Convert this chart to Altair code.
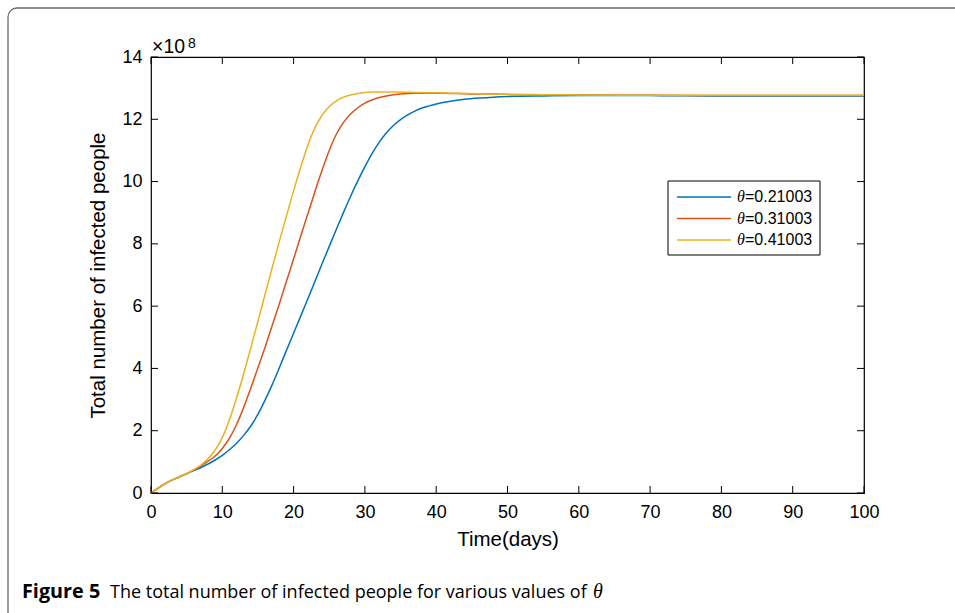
import altair as alt
import pandas as pd

# Total infected people (in units of 10^8) versus time, for three theta values
days = [0, 1, 2, 3, 4, 5, 6, 7, 8, 9, 10, 11, 12, 13, 14, 15, 16, 17, 18, 19,
        20, 21, 22, 23, 24, 25, 26, 27, 28, 29, 30, 31, 32, 33, 34, 35, 36, 37,
        38, 39, 40, 42, 44, 46, 48, 50, 55, 60, 70, 80, 90, 100]

theta_021 = [0, 0.16, 0.30, 0.42, 0.52, 0.62, 0.72, 0.82, 0.93, 1.06, 1.21, 1.39,
             1.60, 1.85, 2.15, 2.53, 2.98, 3.48, 4.02, 4.58, 5.13, 5.68, 6.24,
             6.80, 7.36, 7.92, 8.47, 9.01, 9.53, 10.02, 10.48, 10.90, 11.26, 11.56,
             11.80, 11.99, 12.14, 12.26, 12.36, 12.43, 12.49, 12.58, 12.64, 12.68,
             12.71, 12.73, 12.75, 12.76, 12.76, 12.75, 12.75, 12.75]

theta_031 = [0, 0.16, 0.30, 0.42, 0.52, 0.62, 0.74, 0.87, 1.02, 1.19, 1.43, 1.76,
             2.20, 2.75, 3.37, 4.02, 4.68, 5.38, 6.08, 6.80, 7.52, 8.25, 8.97,
             9.68, 10.37, 11.00, 11.52, 11.90, 12.17, 12.37, 12.52, 12.62, 12.70,
             12.75, 12.79, 12.81, 12.83, 12.84, 12.84, 12.84, 12.84, 12.83, 12.82,
             12.81, 12.81, 12.80, 12.79, 12.78, 12.77, 12.76, 12.76, 12.76]

theta_041 = [0, 0.16, 0.30, 0.42, 0.52, 0.62, 0.75, 0.90, 1.10, 1.38, 1.78, 2.35,
             3.05, 3.83, 4.66, 5.52, 6.38, 7.24, 8.08, 8.90, 9.70, 10.47, 11.17,
             11.73, 12.13, 12.41, 12.59, 12.71, 12.78, 12.83, 12.86, 12.875, 12.88,
             12.88, 12.88, 12.87, 12.87, 12.86, 12.86, 12.85, 12.85, 12.84, 12.83,
             12.82, 12.81, 12.80, 12.79, 12.78, 12.77, 12.77, 12.77, 12.77]

series_names = ["θ=0.21003", "θ=0.31003", "θ=0.41003"]
legend_values = ["=0.21003", "=0.31003", "=0.41003"]
series_colors = ["#0072BD", "#D95319", "#EDB120"]

x_ticks = [0, 10, 20, 30, 40, 50, 60, 70, 80, 90, 100]
y_ticks = [0, 2, 4, 6, 8, 10, 12, 14]

W, H = 713, 436
FONT = "Liberation Sans"

rows = []
for name, vals in zip(series_names, [theta_021, theta_031, theta_041]):
    for d, v in zip(days, vals):
        rows.append({"day": d, "value": v, "series": name})
df = pd.DataFrame(rows)

x_scale = alt.Scale(domain=[0, 100], nice=False, zero=False)
y_scale = alt.Scale(domain=[0, 14], nice=False)

lines = alt.Chart(df).mark_line(strokeWidth=1.5, interpolate="monotone").encode(
    x=alt.X("day:Q", scale=x_scale,
            axis=alt.Axis(values=x_ticks, grid=False, ticks=False, domain=False,
                          labelFlush=False, labelOverlap=False,
                          labelFontSize=18, labelPadding=10, labelFont=FONT,
                          labelColor="black", title="Time(days)",
                          titleFontSize=20.5, titleFont=FONT, titleColor="black",
                          titleFontWeight="normal", titlePadding=8)),
    y=alt.Y("value:Q", scale=y_scale,
            axis=alt.Axis(values=y_ticks, grid=False, ticks=False, domain=False,
                          labelFlush=False, labelOverlap=False,
                          labelFontSize=18, labelPadding=9, labelFont=FONT,
                          labelColor="black",
                          title="Total number of infected people",
                          titleFontSize=20.5, titleFont=FONT, titleColor="black",
                          titleFontWeight="normal", titlePadding=13)),
    color=alt.Color("series:N", scale=alt.Scale(domain=series_names,
                                                range=series_colors),
                    legend=None),
    order="day:Q",
)

# inward-pointing tick marks on all four sides of the box
xt = pd.DataFrame({"t": x_ticks})
yt = pd.DataFrame({"t": y_ticks})
tick_style = dict(color="black", strokeWidth=1)
ticks_bottom = alt.Chart(xt).mark_rule(**tick_style).encode(
    x=alt.X("t:Q", scale=x_scale), y=alt.value(H), y2=alt.value(H - 7))
ticks_top = alt.Chart(xt).mark_rule(**tick_style).encode(
    x=alt.X("t:Q", scale=x_scale), y=alt.value(0), y2=alt.value(7))
ticks_left = alt.Chart(yt).mark_rule(**tick_style).encode(
    y=alt.Y("t:Q", scale=y_scale), x=alt.value(0), x2=alt.value(7))
ticks_right = alt.Chart(yt).mark_rule(**tick_style).encode(
    y=alt.Y("t:Q", scale=y_scale), x=alt.value(W), x2=alt.value(W - 7))

one = pd.DataFrame({"k": [0]})

# exponent label above the y axis
exp_base = alt.Chart(one).mark_text(
    text="×10", font=FONT, fontSize=19.5, align="left", baseline="alphabetic",
    color="black").encode(x=alt.value(1), y=alt.value(-4))
exp_sup = alt.Chart(one).mark_text(
    text="8", font=FONT, fontSize=14, align="left", baseline="alphabetic",
    color="black").encode(x=alt.value(37), y=alt.value(-9))

# legend box with line samples and labels
leg_x0, leg_y0 = 517, 124
legend_box = alt.Chart(one).mark_rect(
    fill="white", stroke="black", strokeWidth=1).encode(
    x=alt.value(leg_x0), x2=alt.value(leg_x0 + 152),
    y=alt.value(leg_y0), y2=alt.value(leg_y0 + 74))
legend_layers = [legend_box]
for i, (lab, col) in enumerate(zip(legend_values, series_colors)):
    yy = leg_y0 + 16 + i * 21.5
    legend_layers.append(alt.Chart(one).mark_rule(
        color=col, strokeWidth=1.5).encode(
        x=alt.value(leg_x0 + 9), x2=alt.value(leg_x0 + 63), y=alt.value(yy)))
    legend_layers.append(alt.Chart(one).mark_text(
        text="θ", font="Liberation Serif", fontStyle="italic", fontSize=16,
        align="left", baseline="middle", color="black").encode(
        x=alt.value(leg_x0 + 69), y=alt.value(yy)))
    legend_layers.append(alt.Chart(one).mark_text(
        text=lab, font=FONT, fontSize=16, align="left", baseline="middle",
        color="black").encode(x=alt.value(leg_x0 + 77), y=alt.value(yy)))

# figure frame and caption
frame = alt.Chart(one).mark_rect(
    fill=None, stroke="#6b6b6b", strokeWidth=1.3, cornerRadius=9).encode(
    x=alt.value(8 - 151), x2=alt.value(975 - 151),
    y=alt.value(8 - 57), y2=alt.value(640 - 57))
cap_font = "Open Sans"
cap_bold = alt.Chart(one).mark_text(
    text="Figure 5", font=cap_font, fontSize=19.8, fontWeight="bold",
    align="left", baseline="alphabetic", color="black").encode(
    x=alt.value(22 - 151), y=alt.value(598 - 57))
cap_text = alt.Chart(one).mark_text(
    text="The total number of infected people for various values of",
    font=cap_font, fontSize=18, align="left", baseline="alphabetic",
    color="black").encode(x=alt.value(110 - 151), y=alt.value(598 - 57))
cap_theta = alt.Chart(one).mark_text(
    text="θ", font="Liberation Serif", fontStyle="italic", fontSize=20,
    align="left", baseline="alphabetic", color="black").encode(
    x=alt.value(593 - 151), y=alt.value(598 - 57))

chart = alt.layer(
    frame, lines, ticks_bottom, ticks_top, ticks_left, ticks_right,
    exp_base, exp_sup, *legend_layers, cap_bold, cap_text, cap_theta,
).properties(
    width=W, height=H,
    autosize=alt.AutoSizeParams(type="none"),
    padding={"left": 151, "top": 57, "right": 955 - 151 - W, "bottom": 613 - 57 - H},
    background="white",
).configure_view(
    stroke="black", strokeWidth=1.2,
)

chart.save("out.html", embed_options={"renderer": "svg", "actions": False})
